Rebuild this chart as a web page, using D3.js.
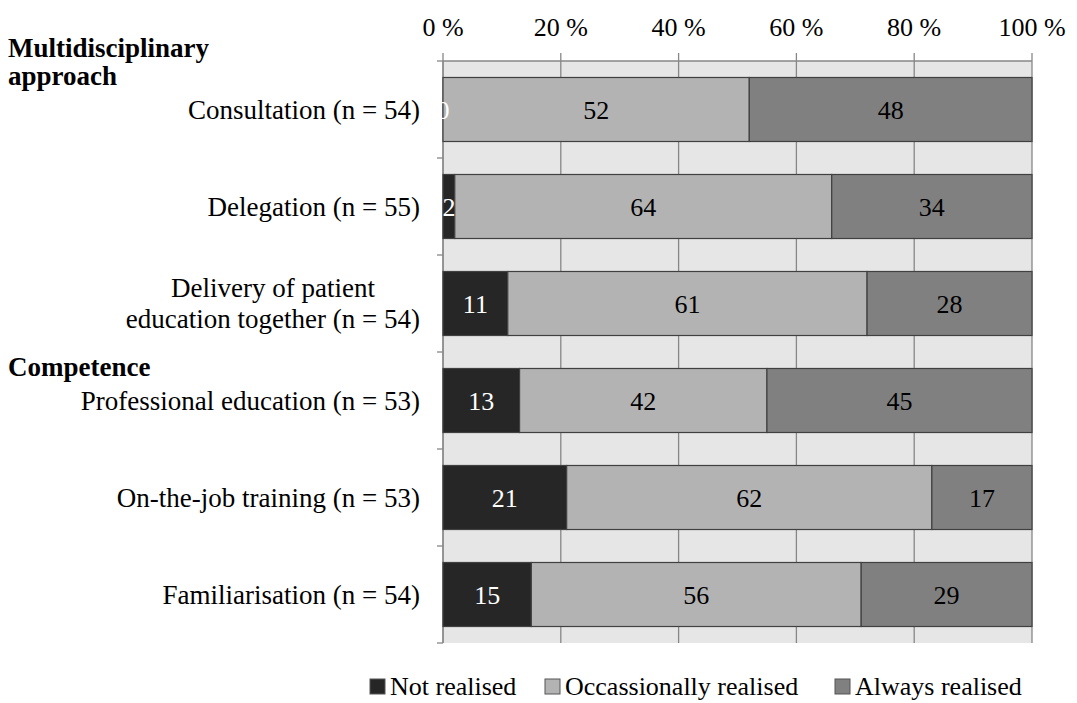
<!DOCTYPE html>
<html>
<head>
<meta charset="utf-8">
<script src="https://cdn.jsdelivr.net/npm/d3@7"></script>
<style>
  body { margin: 0; background: #fff; }
  text { font-family: "Liberation Serif", "Times New Roman", serif; }
</style>
</head>
<body>
<div id="chart"></div>
<script>
// Chart data
const categories = [
    "Consultation (n = 54)",
    "Delegation (n = 55)",
    "Delivery of patient|education together (n = 54)",
    "Professional education (n = 53)",
    "On-the-job training (n = 53)",
    "Familiarisation (n = 54)"
];
const seriesNames = ["Not realised", "Occassionally realised", "Always realised"];
const notRealised = [0, 2, 11, 13, 21, 15];
const occasionally = [52, 64, 61, 42, 62, 56];
const always = [48, 34, 28, 45, 17, 29];
const xTicks = [0, 20, 40, 60, 80, 100];
const groupHeaders = [
    { text: ["Multidisciplinary", "approach"], before: 0 },
    { text: ["Competence"], before: 3 }
];

const colors = ["#262626", "#b3b3b3", "#808080"];
const labelColors = ["#ffffff", "#000000", "#000000"];

const width = 1077, height = 703;
const margin = { top: 61, right: 45, bottom: 60, left: 443 };
const innerW = width - margin.left - margin.right;
const innerH = 643 - margin.top;

const svg = d3.select("#chart").append("svg")
    .attr("width", width)
    .attr("height", height);

const g = svg.append("g")
    .attr("transform", `translate(${margin.left},${margin.top})`);

// Stack the three series
let rows = categories.map((c, i) => ({
    cat: c, vals: [notRealised[i], occasionally[i], always[i]]
}));

let x = d3.scaleLinear().domain([0, 100]).range([0, innerW]);
let y = d3.scaleBand().domain(categories).range([0, innerH]).paddingInner(0.34).paddingOuter(0.17);

// Plot background
g.append("rect")
    .attr("width", innerW)
    .attr("height", innerH)
    .attr("fill", "#e6e6e6");

// Vertical gridlines (extend above the plot like ticks)
g.selectAll(".grid")
    .data(xTicks)
    .enter().append("line")
    .attr("x1", d => x(d)).attr("x2", d => x(d))
    .attr("y1", -8).attr("y2", innerH)
    .attr("stroke", "#878787")
    .attr("stroke-width", 1.3);

// Top border line
g.append("line")
    .attr("x1", 0).attr("x2", innerW)
    .attr("y1", 0).attr("y2", 0)
    .attr("stroke", "#878787")
    .attr("stroke-width", 1.3);

// Top axis labels
g.selectAll(".xlab")
    .data(xTicks)
    .enter().append("text")
    .attr("x", d => x(d))
    .attr("y", -34)
    .attr("dy", "0.35em")
    .attr("text-anchor", "middle")
    .attr("font-size", "26px")
    .attr("fill", "#000")
    .text(d => d + " %");

// Left axis with ticks at band borders
let step = y.step();
g.append("line")
    .attr("x1", 0).attr("x2", 0)
    .attr("y1", 0).attr("y2", innerH)
    .attr("stroke", "#878787")
    .attr("stroke-width", 1.3);
g.selectAll(".ytick")
    .data(d3.range(categories.length + 1))
    .enter().append("line")
    .attr("x1", -6).attr("x2", 0)
    .attr("y1", d => d * innerH / categories.length)
    .attr("y2", d => d * innerH / categories.length)
    .attr("stroke", "#878787")
    .attr("stroke-width", 1.3);

// Bars
rows.forEach(r => {
    let acc = 0;
    r.segs = r.vals.map((v, k) => {
        let s = { x0: acc, x1: acc + v, v: v, k: k, cat: r.cat };
        acc += v;
        return s;
    });
});

let rowG = g.selectAll(".row")
    .data(rows)
    .enter().append("g");

rowG.selectAll("rect")
    .data(d => d.segs)
    .enter().append("rect")
    .attr("x", d => x(d.x0))
    .attr("y", d => y(d.cat))
    .attr("width", d => x(d.x1) - x(d.x0))
    .attr("height", y.bandwidth())
    .attr("fill", d => colors[d.k])
    .attr("stroke", "#404040")
    .attr("stroke-width", 1.2);

rowG.selectAll(".val")
    .data(d => d.segs)
    .enter().append("text")
    .attr("x", d => x((d.x0 + d.x1) / 2))
    .attr("y", d => y(d.cat) + y.bandwidth() / 2)
    .attr("dy", "0.35em")
    .attr("text-anchor", "middle")
    .attr("font-size", "26px")
    .attr("fill", d => labelColors[d.k])
    .text(d => d.v);

// Category labels
categories.forEach(c => {
    let lines = c.split("|");
    let cy = y(c) + y.bandwidth() / 2;
    let t = svg.append("text")
        .attr("font-size", "27px")
        .attr("fill", "#000");
    if (lines.length === 1) {
        t.attr("x", margin.left - 23)
            .attr("y", margin.top + cy)
            .attr("dy", "0.35em")
            .attr("text-anchor", "end")
            .text(c);
    } else {
        // wrapped label, centred lines
        let tmp = svg.append("text").attr("font-size", "27px").text(lines[1]);
        let w = tmp.node().getComputedTextLength();
        tmp.remove();
        let cx = margin.left - 23 - w / 2;
        t.attr("text-anchor", "middle");
        lines.forEach((ln, i) => {
            t.append("tspan")
                .attr("x", cx)
                .attr("y", margin.top + cy + (i - (lines.length - 1) / 2) * 31)
                .attr("dy", "0.35em")
                .text(ln);
        });
    }
});

// Group headers
groupHeaders.forEach(h => {
    let top = margin.top + h.before * step;
    h.text.forEach((ln, i) => {
        svg.append("text")
            .attr("x", 8)
            .attr("y", top + 24 - (h.text.length - 1 - i) * 28)
            .attr("font-size", "27px")
            .attr("font-weight", "bold")
            .attr("fill", "#000")
            .text(ln);
    });
});

// Legend
const legendX = [370, 545, 835];
let leg = svg.selectAll(".leg")
    .data(seriesNames)
    .enter().append("g")
    .attr("transform", (d, i) => `translate(${legendX[i]},686)`);
leg.append("rect")
    .attr("x", 0).attr("y", -7)
    .attr("width", 15).attr("height", 15)
    .attr("fill", (d, i) => colors[i])
    .attr("stroke", "#555")
    .attr("stroke-width", 1);
leg.append("text")
    .attr("x", 20)
    .attr("y", 9)
    .attr("font-size", "26px")
    .attr("fill", "#000")
    .text(d => d);
</script>
</body>
</html>
